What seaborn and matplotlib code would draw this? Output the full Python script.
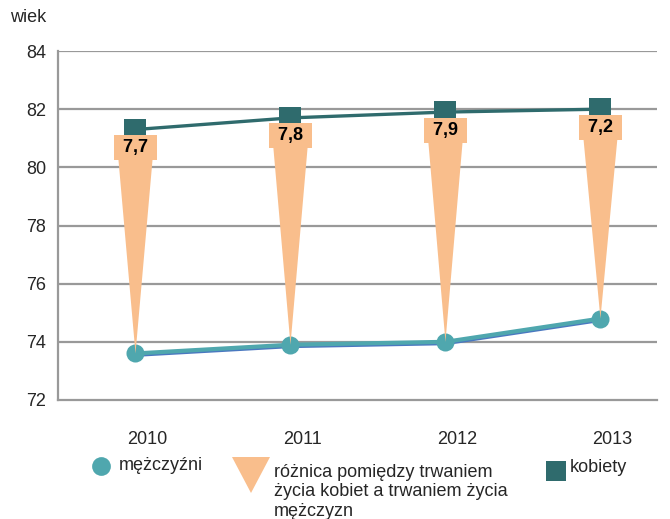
import matplotlib
matplotlib.use("Agg")
import matplotlib.pyplot as plt
from matplotlib.lines import Line2D
from matplotlib.patches import Polygon
from matplotlib.transforms import ScaledTranslation
import seaborn as sns
import pandas as pd
import numpy as np

years = ["2010", "2011", "2012", "2013"]
men = [73.6, 73.9, 74.0, 74.8]
women = [81.3, 81.7, 81.9, 82.0]
diff_labels = ["7,7", "7,8", "7,9", "7,2"]

sns.set_style("white")
plt.rcParams['font.family'] = ['Liberation Sans', 'DejaVu Sans']

C_MEN = "#4FA7AE"
C_MEN_EDGE = "#4A78C0"
C_WOMEN = "#2F6B6D"
C_DIFF = "#F9BE8C"
C_GRID = "#999999"
FS = 13

W, H = 670, 519
fig = plt.figure(figsize=(W/100, H/100), dpi=100)
ax = fig.add_axes([58/W, 1-400/H, (657-58)/W, (400-51)/H])

x = np.arange(len(years))
df = pd.DataFrame({"x": x, "men": men, "women": women})

ax.set_ylim(72, 84)
ax.set_xlim(-0.5, 3.365)
ax.set_yticks(np.arange(72, 85, 2))
for yv in np.arange(74, 85, 2):
    ax.axhline(yv, color=C_GRID, lw=1.6, zorder=0)

# men line with bluish under-edge
sns.lineplot(data=df, x="x", y="men", ax=ax, color=C_MEN_EDGE, lw=3.2, zorder=2)
ax.lines[-1].set_transform(ax.transData + ScaledTranslation(0, -1.2/100, fig.dpi_scale_trans))
sns.lineplot(data=df, x="x", y="men", ax=ax, color=C_MEN, lw=3, marker="o",
             markersize=13, markeredgewidth=0, zorder=3)
sns.lineplot(data=df, x="x", y="women", ax=ax, color=C_WOMEN, lw=2.4, marker="s",
             markersize=16, markeredgewidth=0, zorder=3)

# difference triangles + labels
ppd = (400 - 51) / 12.0   # pixels per data unit (y)
ppx = 155.0               # pixels per category (x)
hw = 19 / ppx
for i in range(len(years)):
    top = women[i] - 8 / ppd
    tri = Polygon([[x[i] - hw, top], [x[i] + hw, top], [x[i], men[i]]], closed=True,
                  facecolor=C_DIFF, edgecolor="none", zorder=4)
    ax.add_patch(tri)
    ax.annotate(" " + diff_labels[i] + " ", (x[i], women[i]), xytext=(0, -13), textcoords="offset points",
                ha="center", va="center", fontsize=FS, fontweight="bold", color="black", zorder=6,
                bbox=dict(boxstyle="square,pad=0.22", facecolor=C_DIFF, edgecolor="none"))

ax.set_xlabel("")
ax.set_ylabel("")
ax.set_xticks(x + 12 / ppx)
ax.set_xticklabels(years)
ax.set_xticks([0.5, 1.5, 2.5], minor=True)
ax.tick_params(axis="x", which="major", length=0, pad=22, labelsize=FS)
ax.tick_params(axis="x", which="minor", length=5, width=1.6, color=C_GRID, direction="out")
ax.tick_params(axis="y", length=7, width=1.6, color=C_GRID, labelsize=FS, pad=1.5)

for s in ["top", "right"]:
    ax.spines[s].set_visible(False)
for s in ["left", "bottom"]:
    ax.spines[s].set_color(C_GRID)
    ax.spines[s].set_linewidth(1.6)

fig.text(10/W, 1-18/H, "wiek", fontsize=FS, ha="left", va="center")

# legend (drawn manually in figure pixel positions)
def fx(px):
    return px / W
def fy(py):
    return 1 - py / H

fig.add_artist(Line2D([fx(101)], [fy(466)], transform=fig.transFigure, ls="none",
                      marker="o", markersize=13.5, color=C_MEN, markeredgewidth=0))
fig.text(fx(119), fy(465), "mężczyźni", fontsize=FS, ha="left", va="center")

fig.add_artist(Polygon([[fx(232), fy(457)], [fx(270), fy(457)], [fx(251), fy(493)]],
                       closed=True, transform=fig.transFigure, facecolor=C_DIFF, edgecolor="none"))
fig.text(fx(274), fy(464), "różnica pomiędzy trwaniem\nżycia kobiet a trwaniem życia\nmężczyzn",
         fontsize=FS, ha="left", va="top", linespacing=1.18)

fig.add_artist(Line2D([fx(555.5)], [fy(471)], transform=fig.transFigure, ls="none",
                      marker="s", markersize=14, color=C_WOMEN, markeredgewidth=0))
fig.text(fx(570), fy(468), "kobiety", fontsize=FS, ha="left", va="center")

fig.savefig("out.png", dpi=100)
